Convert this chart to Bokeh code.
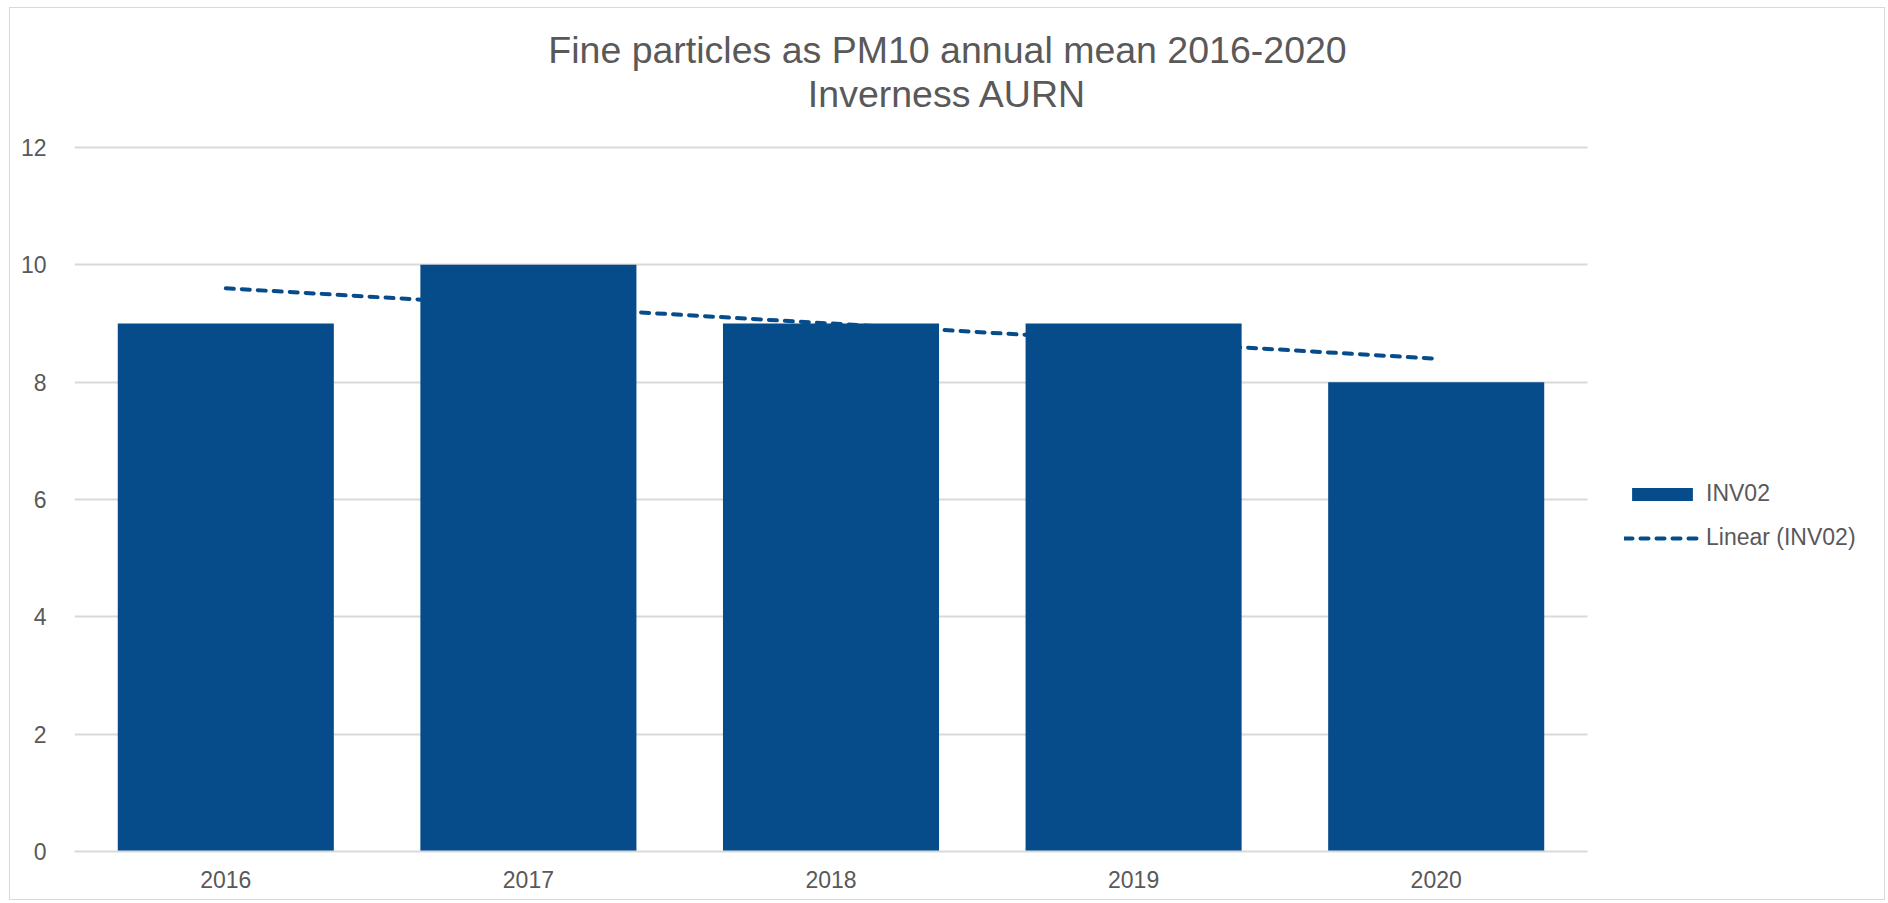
import numpy as np
from bokeh.plotting import figure
from bokeh.models import Range1d, FixedTicker, Legend, LegendItem, ColumnDataSource, Label
from bokeh.embed import file_html
from bokeh.resources import INLINE

# ---- data ----
years = ["2016", "2017", "2018", "2019", "2020"]
values = [9, 10, 9, 9, 8]
series_name = "INV02"
trend_name = "Linear (INV02)"
title_lines = ["Fine particles as PM10 annual mean 2016-2020", "Inverness AURN"]
y_ticks = [0, 2, 4, 6, 8, 10, 12]
y_top_tick = 12

# ---- style / layout (page pixels) ----
BAR = "#064C8A"
TXT = "#595959"
GRID = "#D9D9D9"
FONT = "Liberation Sans"

W, H = 1876, 893
ORG_X, ORG_Y = 10, 8            # page position of the canvas origin
PLOT_L, PLOT_R = 74, 1587       # page x of category area
Y0_PX, YTOP_PX = 851, 147       # page y of value 0 and of top tick

n = len(years)
ppx = (PLOT_R - PLOT_L) / n                      # px per category
ppy = (Y0_PX - YTOP_PX) / y_top_tick             # px per unit
FL = PLOT_L - ORG_X
FB = Y0_PX - ORG_Y
x_end = (ORG_X + W - PLOT_L) / ppx
y_end = (Y0_PX - ORG_Y) / ppy

p = figure(width=W, height=H,
           x_range=Range1d(0, x_end), y_range=Range1d(0, y_end),
           output_backend="svg", toolbar_location=None,
           min_border_left=FL, min_border_right=0,
           min_border_top=0, min_border_bottom=H - FB)
p.styles = {"border": "1px solid #D9D9D9", "margin-left": "9px", "margin-top": "7px"}
p.outline_line_color = None
p.background_fill_color = "white"

xs = [i + 0.5 for i in range(n)]
src = ColumnDataSource(dict(x=xs, top=values))

# linear trend (least squares over the series)
idx = np.arange(n)
slope, intercept = np.polyfit(idx, values, 1)
trend_y = [intercept + slope * i for i in idx]

trend = p.line(xs, trend_y, line_color=BAR, line_width=4, line_dash="8 8",
               line_cap="round")
bars = p.vbar(x="x", top="top", width=0.714, source=src, fill_color=BAR,
              line_color=None)

# axes
p.xaxis.ticker = FixedTicker(ticks=xs)
p.xaxis.major_label_overrides = {x: y for x, y in zip(xs, years)}
p.xaxis.bounds = (0, n)
p.yaxis.ticker = FixedTicker(ticks=y_ticks)
for ax in (p.xaxis[0], p.yaxis[0]):
    ax.major_label_text_font = FONT
    ax.major_label_text_font_size = "23px"
    ax.major_label_text_color = TXT
    ax.major_tick_line_color = None
    ax.minor_tick_line_color = None
p.yaxis.axis_line_color = None
p.yaxis.major_label_standoff = 22
p.xaxis.axis_line_color = GRID
p.xaxis.axis_line_width = 2
p.xaxis.major_label_standoff = 13

p.xgrid.grid_line_color = None
p.ygrid.grid_line_color = GRID
p.ygrid.grid_line_width = 2
p.ygrid.cross_bounds = (0, n)


def dx(page_x):
    return (page_x - PLOT_L) / ppx


def dy(page_y):
    return (Y0_PX - page_y) / ppy


for line_text, py in zip(title_lines, [49, 93]):
    p.add_layout(Label(x=dx(947), y=dy(py), text=line_text,
                       text_align="center", text_baseline="middle",
                       text_font=FONT, text_font_size="37.5px", text_color=TXT))

legend = Legend(items=[LegendItem(label=series_name, renderers=[bars]),
                       LegendItem(label=trend_name, renderers=[trend])],
                location=(1624 - PLOT_L, Y0_PX - 551),
                orientation="vertical",
                glyph_width=76, glyph_height=16, label_height=23,
                spacing=17, label_standoff=6, padding=0, margin=0,
                border_line_color=None, background_fill_alpha=0,
                label_text_font=FONT, label_text_font_size="23px",
                label_text_color=TXT)
p.add_layout(legend)

open("out.html", "w").write(file_html(p, INLINE))
